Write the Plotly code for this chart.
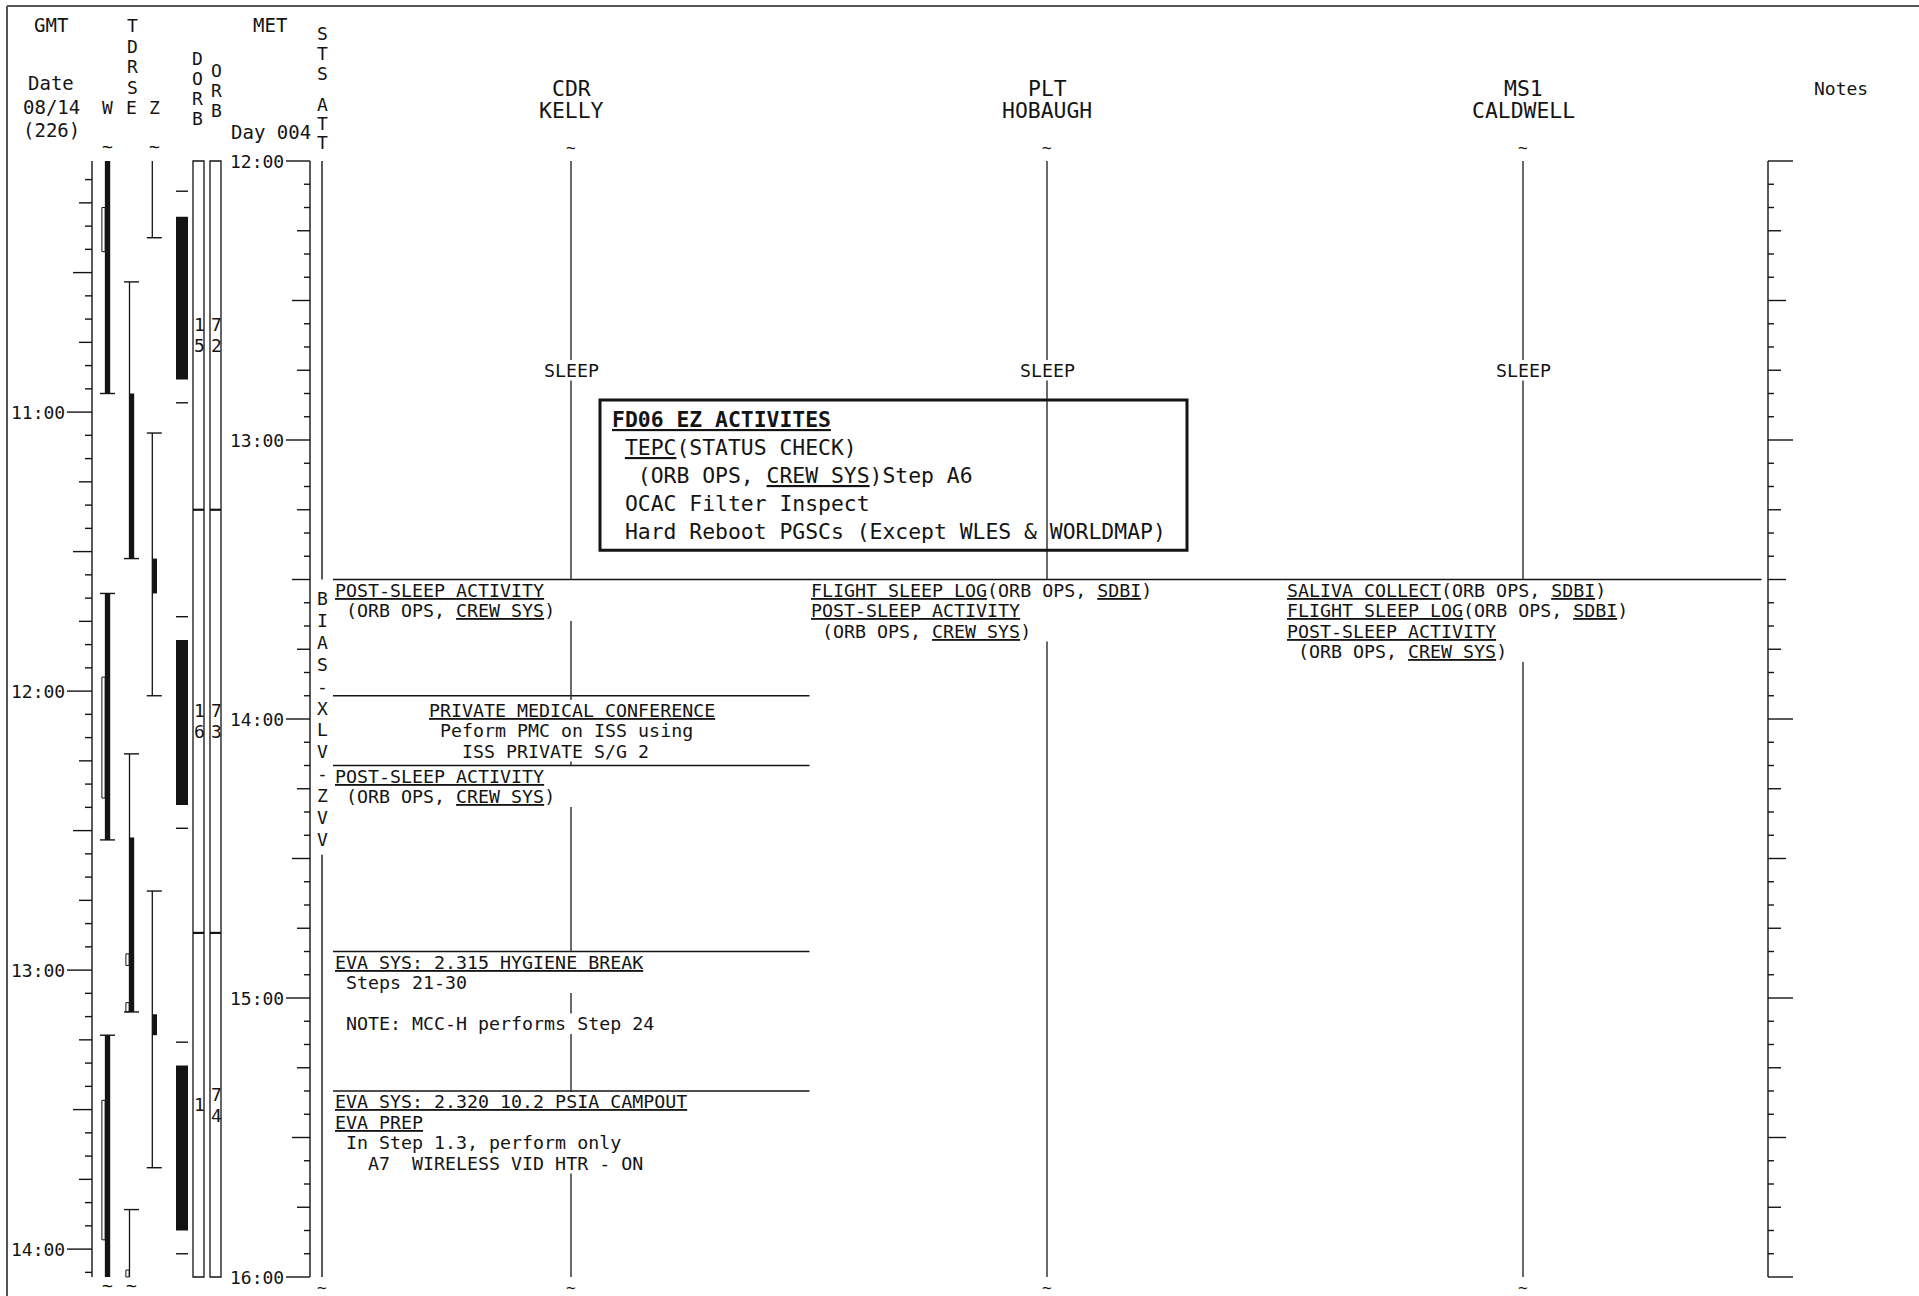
import re
import plotly.graph_objects as go

# ===================== data =====================
GMT_TITLE = "GMT"
GMT_DATE_LINES = ["Date", "08/14", "(226)"]
GMT_AT_MET_START = "10:06"
GMT_HOUR_LABELS = ["11:00", "12:00", "13:00", "14:00"]

MET_TITLE = "MET"
MET_DAY = "Day 004"
MET_START, MET_END = "12:00", "16:00"
MET_HOUR_LABELS = ["12:00", "13:00", "14:00", "15:00", "16:00"]

TDRS_TITLE = "TDRS"
TDRS_TRACKS = ["W", "E", "Z"]
W_COVER = [("11:40", "12:50"), ("13:33", "14:26"), ("15:08", "16:20")]
W_SOLID = [("11:40", "12:50"), ("13:33", "14:26"), ("15:08", "16:20")]
W_OPEN = [("12:10", "12:19:30"), ("13:51", "14:17"), ("15:22", "15:52")]
E_COVER = [("12:26", "13:25:30"), ("14:07:30", "15:03"), ("15:45:30", "16:20")]
E_SOLID = [("12:50", "13:25:30"), ("14:25:30", "15:03")]
E_OPEN = [("14:50:30", "14:53"), ("15:01", "15:03"), ("15:58:30", "16:00")]
Z_COVER = [("11:40", "12:16:30"), ("12:58:30", "13:55"), ("14:37", "15:36:30")]
Z_SOLID = [("13:25:30", "13:33"), ("15:03:30", "15:08")]
Z_OPEN = []

DORB_TITLE = "DORB"
ORB_TITLE = "ORB"
DORB_MARKS = ["12:06:30", "12:52", "13:38", "14:23:30", "15:09:30", "15:55"]
DORB_WINDOWS = [("12:12", "12:47"), ("13:43", "14:18:30"), ("15:14:30", "15:50")]
ORBIT_STARTS = ["13:15", "14:46"]
DORB_NUMBERS = ["15", "16", "1"]
ORB_NUMBERS = ["72", "73", "74"]

ATT_TITLE = ["STS", "ATT"]
ATT_STARTS = ["13:30"]
ATT_NAMES = ["BIAS -XLV -ZVV"]

CREW_ROLES = ["CDR", "PLT", "MS1"]
CREW_NAMES = ["KELLY", "HOBAUGH", "CALDWELL"]
SLEEP_LABEL = "SLEEP"
SLEEP_END = ["13:30", "13:30", "13:30"]

CDR_STARTS = ["13:30", "13:55", "14:10", "14:50", "15:20"]
CDR_ALIGN = ["left", "center", "left", "left", "left"]
CDR_TEXT = [
    ["<u>POST-SLEEP ACTIVITY</u>", " (ORB OPS, <u>CREW SYS</u>)"],
    ["<u>PRIVATE MEDICAL CONFERENCE</u>", " Peform PMC on ISS using", "   ISS PRIVATE S/G 2"],
    ["<u>POST-SLEEP ACTIVITY</u>", " (ORB OPS, <u>CREW SYS</u>)"],
    ["<u>EVA SYS: 2.315 HYGIENE BREAK</u>", " Steps 21-30", "", " NOTE: MCC-H performs Step 24"],
    ["<u>EVA SYS: 2.320 10.2 PSIA CAMPOUT</u>", "<u>EVA PREP</u>",
     " In Step 1.3, perform only", "   A7  WIRELESS VID HTR - ON"],
]
PLT_STARTS = ["13:30"]
PLT_ALIGN = ["left"]
PLT_TEXT = [
    ["<u>FLIGHT SLEEP LOG</u>(ORB OPS, <u>SDBI</u>)", "<u>POST-SLEEP ACTIVITY</u>",
     " (ORB OPS, <u>CREW SYS</u>)"],
]
MS1_STARTS = ["13:30"]
MS1_ALIGN = ["left"]
MS1_TEXT = [
    ["<u>SALIVA COLLECT</u>(ORB OPS, <u>SDBI</u>)", "<u>FLIGHT SLEEP LOG</u>(ORB OPS, <u>SDBI</u>)",
     "<u>POST-SLEEP ACTIVITY</u>", " (ORB OPS, <u>CREW SYS</u>)"],
]

NOTE_BOX_SPAN = ("12:51:24", "13:23:42")
NOTE_LINES = [
    "<b><u>FD06 EZ ACTIVITES</u></b>",
    " <u>TEPC</u>(STATUS CHECK)",
    "  (ORB OPS, <u>CREW SYS</u>)Step A6",
    " OCAC Filter Inspect",
    " Hard Reboot PGSCs (Except WLES & WORLDMAP)",
]
NOTES_TITLE = "Notes"

# ===================== layout constants =====================
FIG_W, FIG_H = 1919, 1296
PX_PER_MIN = 4.65
Y0_PX = 161
FONT = "DejaVu Sans Mono"
INK = "#141414"
LH = 20.5 / PX_PER_MIN       # text line height in minutes
FS = 18.3                     # activity font size
CW = 0.602 * FS               # mono char width


def clock_min(c):
    p = [float(v) for v in c.split(":")]
    return p[0] * 60 + p[1] + (p[2] / 60 if len(p) > 2 else 0)


T0 = clock_min(MET_START)
T_END = clock_min(MET_END) - T0


def tm(c):
    return clock_min(c) - T0


def py(px):
    return (px - Y0_PX) / PX_PER_MIN


def clip(t):
    return min(max(t, 0), T_END)


segs = {}
shapes = []
anns = []


def seg(x0, t0, x1, t1, w=1.4, c=INK):
    xs, ys = segs.setdefault((c, w), ([], []))
    xs.extend([x0, x1, None])
    ys.extend([t0, t1, None])


def rect(x0, t0, x1, t1, fill=None, lw=1.2):
    shapes.append(dict(type="rect", xref="x", yref="y", x0=x0, x1=x1, y0=t0, y1=t1,
                       fillcolor=fill if fill else "rgba(0,0,0,0)",
                       line=dict(width=lw, color=INK if lw else "rgba(0,0,0,0)")))


def txt(x, t, s, size=FS, xa="center", ya="middle"):
    anns.append(dict(x=x, y=t, xref="x", yref="y", text=s.replace(" ", "\u00a0"),
                     showarrow=False, xanchor=xa, yanchor=ya, borderpad=0,
                     font=dict(family=FONT, size=size, color=INK)))


def plain(s):
    return re.sub(r"<[^>]+>", "", s)


def subtract(a, b, gaps):
    out, cur = [], a
    for g0, g1 in sorted(gaps):
        if g1 <= cur:
            continue
        if g0 > cur:
            out.append((cur, min(g0, b)))
        cur = max(cur, g1)
        if cur >= b:
            break
    if cur < b:
        out.append((cur, b))
    return out


# ---------- frame ----------
seg(7, py(6), FIG_W, py(6), w=2, c="#555")
seg(7, py(6), 7, py(FIG_H), w=2, c="#555")

# ---------- GMT axis ----------
GX = 92
txt(51, py(25), GMT_TITLE, 19)
for i, s in enumerate(GMT_DATE_LINES):
    txt(51, py(83 + i * 23.5), s, 19)
seg(GX, 0, GX, T_END)
g0 = clock_min(GMT_AT_MET_START)
m = int(-(-g0 // 5) * 5)
while m - g0 <= T_END:
    t = m - g0
    lab = "%02d:%02d" % (m // 60, m % 60)
    if m % 60 == 0:
        seg(GX - 25, t, GX, t)
        if lab in GMT_HOUR_LABELS:
            txt(GX - 26, t, lab, 18, xa="right")
    elif m % 30 == 0:
        seg(GX - 19, t, GX, t)
    elif m % 15 == 0:
        seg(GX - 13, t, GX, t)
    else:
        seg(GX - 7, t, GX, t)
    m += 5

# ---------- TDRS ----------
TRACK_X = {"W": 105.5, "E": 129.5, "Z": 152.3}
for i, ch in enumerate(TDRS_TITLE):
    txt(TRACK_X["E"] + 2.5, py([25, 46, 66, 87][i]), ch, 18)
for name in TDRS_TRACKS:
    txt(TRACK_X[name] + 2, py(107), name, 18)
for name, cover, solid, opn in [("W", W_COVER, W_SOLID, W_OPEN),
                                ("E", E_COVER, E_SOLID, E_OPEN),
                                ("Z", Z_COVER, Z_SOLID, Z_OPEN)]:
    lx = TRACK_X[name]
    for a, b in cover:
        ta, tb = tm(a), tm(b)
        seg(lx, clip(ta), lx, clip(tb), w=1.3)
        for tt in (ta, tb):
            if 0 <= tt <= T_END:
                seg(lx - 5.5, tt, lx + 9.5, tt, w=1.4)
        if ta < 0:
            txt(lx + 2, py(146), "~", 18)
        if tb > T_END:
            txt(lx + 2, py(1285), "~", 18)
    for a, b in solid:
        rect(lx - 0.3, clip(tm(a)), lx + 4.7, clip(tm(b)), fill=INK, lw=0)
    for a, b in opn:
        rect(lx - 3.6, clip(tm(a)), lx - 0.3, clip(tm(b)), lw=1)

# ---------- DORB / ORB ----------
DX0, DX1 = 176, 188
BX = [(193, 204), (210, 221)]
for i, ch in enumerate(DORB_TITLE):
    txt(197, py(58 + 20 * i), ch, 18)
for i, ch in enumerate(ORB_TITLE):
    txt(216, py(70 + 20 * i), ch, 18)
for mk in DORB_MARKS:
    seg(DX0, tm(mk), DX1, tm(mk), w=1.4)
for a, b in DORB_WINDOWS:
    rect(DX0, tm(a), DX1, tm(b), fill=INK, lw=0)
bounds = [0] + [tm(s) for s in ORBIT_STARTS] + [T_END]
for (x0, x1), nums in zip(BX, [DORB_NUMBERS, ORB_NUMBERS]):
    rect(x0, 0, x1, T_END, lw=1.3)
    for s in ORBIT_STARTS:
        seg(x0, tm(s), x1, tm(s), w=2.2)
    for k, num in enumerate(nums):
        mid = (bounds[k] + bounds[k + 1]) / 2
        n = len(num)
        for j, ch in enumerate(num):
            txt((x0 + x1) / 2 + 1, mid + (j - (n - 1) / 2) * 4.5, ch, 18)

# ---------- MET axis ----------
MX = 310
txt(270, py(25), MET_TITLE, 19)
txt(271, py(132), MET_DAY, 19)
seg(MX, 0, MX, T_END)
for k in range(0, int(T_END) + 1, 5):
    mm = int(T0) + k
    lab = "%02d:%02d" % (mm // 60, mm % 60)
    if k % 60 == 0:
        seg(MX - 24, k, MX, k)
        if lab in MET_HOUR_LABELS:
            txt(MX - 25, k, lab, 18, xa="right")
    elif k % 30 == 0:
        seg(MX - 18, k, MX, k)
    elif k % 15 == 0:
        seg(MX - 13, k, MX, k)
    else:
        seg(MX - 6, k, MX, k)

# ---------- STS ATT ----------
AX = 322
for i, ch in enumerate(ATT_TITLE[0]):
    txt(AX, py(33 + 20 * i), ch, 18)
for i, ch in enumerate(ATT_TITLE[1]):
    txt(AX, py(104 + 19 * i), ch, 18)
att_gaps = []
for s, name in zip(ATT_STARTS, ATT_NAMES):
    chars = [c for c in name if c != " "]
    t_first = tm(s) + 4.1
    for j, ch in enumerate(chars):
        txt(AX, t_first + j * 4.71, ch, 18)
    att_gaps.append((tm(s), t_first + (len(chars) - 1) * 4.71 + 3.3))
for a, b in subtract(0, T_END, att_gaps):
    seg(AX, a, AX, b)
txt(AX, py(1287), "~", 16)

# ---------- crew columns ----------
COL_LEFT = [333, 809, 1285]
COL_W = 476.5
for ci, (role, name, starts, aligns, texts) in enumerate(zip(
        CREW_ROLES, CREW_NAMES,
        [CDR_STARTS, PLT_STARTS, MS1_STARTS],
        [CDR_ALIGN, PLT_ALIGN, MS1_ALIGN],
        [CDR_TEXT, PLT_TEXT, MS1_TEXT])):
    left = COL_LEFT[ci]
    cx = left + 238
    txt(cx, py(88), role, 21.4)
    txt(cx, py(110), name, 21.4)
    txt(cx, py(147), "~", 16)
    txt(cx, py(1287), "~", 16)
    gaps = []
    se = tm(SLEEP_END[ci])
    smid = se / 2
    txt(cx, smid, SLEEP_LABEL, FS)
    gaps.append((smid - LH / 2, smid + LH / 2))
    ts = [tm(s) for s in starts]
    ends = ts[1:] + [T_END + 30]
    for t_s, t_e, al, lines in zip(ts, ends, aligns, texts):
        seg(left, t_s, left + COL_W, t_s, w=1.4)
        n = len(lines)
        if al == "center":
            pad = ((t_e - t_s) - n * LH) / 2
            width = max(len(plain(l)) for l in lines) * CW
            x_left = cx - width / 2
        else:
            pad = 0.1
            x_left = left + 0.5
        for i, l in enumerate(lines):
            if not l:
                continue
            yc = t_s + pad + (i + 0.5) * LH
            txt(x_left, yc, l, FS, xa="left")
            gaps.append((t_s + pad + i * LH, t_s + pad + (i + 1) * LH))
    for a, b in subtract(0, T_END, gaps):
        seg(cx, a, cx, b, w=1.4, c="#2a2a2a")

# ---------- note box ----------
nb0, nb1 = tm(NOTE_BOX_SPAN[0]), tm(NOTE_BOX_SPAN[1])
rect(600, nb0, 1187, nb1, lw=3)
for i, l in enumerate(NOTE_LINES):
    txt(611, nb0 + (19 + 28 * i) / PX_PER_MIN, l, 21.4, xa="left")

# ---------- notes column ----------
NX = 1768
txt(1841, py(88), NOTES_TITLE, 18)
seg(NX, 0, NX, T_END)
for k in range(0, int(T_END) + 1, 5):
    if k % 60 == 0:
        L = 25
    elif k % 30 == 0:
        L = 18
    elif k % 15 == 0:
        L = 13
    else:
        L = 6
    seg(NX, k, NX + L, k)

# ===================== figure =====================
fig = go.Figure()
for (c, w), (xs, ys) in segs.items():
    fig.add_trace(go.Scatter(x=xs, y=ys, mode="lines", line=dict(color=c, width=w),
                             hoverinfo="skip", showlegend=False))
fig.update_layout(
    width=FIG_W, height=FIG_H,
    margin=dict(l=0, r=0, t=0, b=0),
    paper_bgcolor="white", plot_bgcolor="white",
    xaxis=dict(range=[0, FIG_W], visible=False, fixedrange=True),
    yaxis=dict(range=[py(FIG_H), py(0)], visible=False, fixedrange=True),
    shapes=shapes, annotations=anns, showlegend=False,
)
fig.write_html("out.html", config={"displayModeBar": False},
               post_script="document.body.style.margin='0';document.body.style.overflow='hidden';")
